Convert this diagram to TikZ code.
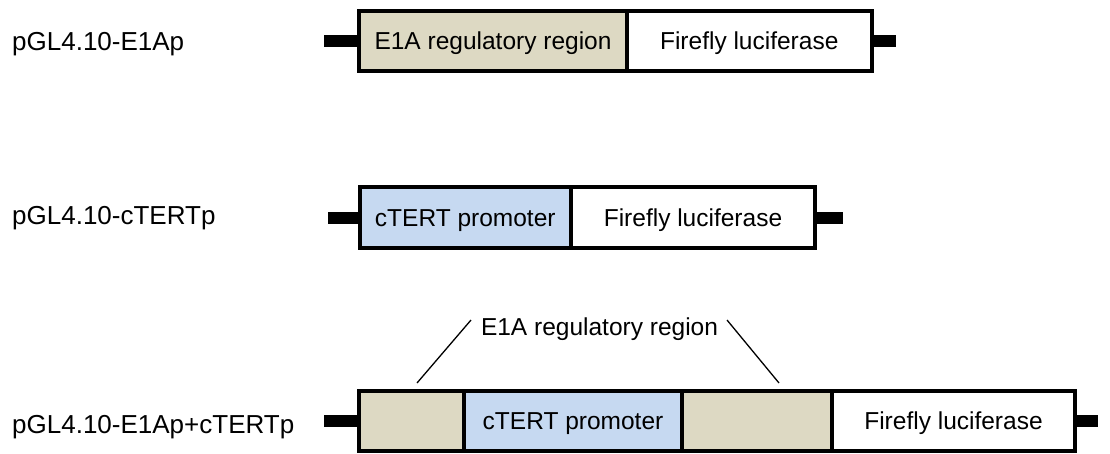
\documentclass[tikz,border=0pt]{standalone}
\usepackage{fontspec}
\setmainfont{Liberation Sans}
\definecolor{tanfill}{HTML}{DDD9C3}
\definecolor{bluefill}{HTML}{C6D9F1}
\begin{document}
\begin{tikzpicture}[x=1pt,y=-1pt,
  seg/.style={draw=black, line width=4pt, inner sep=0pt, outer sep=0pt,
    minimum height=60pt, text height=17.5pt, text depth=0pt,
    font=\fontsize{24.5}{24.5}\selectfont},
  tanseg/.style={seg, fill=tanfill},
  blueseg/.style={seg, fill=bluefill},
  whiteseg/.style={seg, fill=white},
  stub/.style={line width=12pt, line cap=butt, draw=black},
  rowlabel/.style={anchor=base west, inner sep=0pt, font=\fontsize{26}{26}\selectfont},
  callout/.style={line width=1.3pt, draw=black}]
\useasboundingbox (0,0) rectangle (1110,453);

% Row 1
\node[rowlabel] (lab1) at (12,50) {pGL4.10-E1Ap};
\node[tanseg, minimum width=268pt] (r1a) at (493,40.5) {E1A regulatory region};
\node[whiteseg, minimum width=244.5pt] (r1b) at (749.25,40.5) {Firefly luciferase};
\coordinate (r1l) at (324,40.5);
\coordinate (r1r) at (896,40.5);
\draw[stub] (r1l) -- (r1a.west);
\draw[stub] (r1b.east) -- (r1r);

% Row 2
\node[rowlabel] (lab2) at (12,224) {pGL4.10-cTERTp};
\node[blueseg, minimum width=211.5pt, minimum height=61pt] (r2a) at (465.25,217.5) {cTERT promoter};
\node[whiteseg, minimum width=244pt, minimum height=61pt] (r2b) at (693,217.5) {Firefly luciferase};
\coordinate (r2l) at (328,217.5);
\coordinate (r2r) at (843,217.5);
\draw[stub] (r2l) -- (r2a.west);
\draw[stub] (r2b.east) -- (r2r);

% Row 3
\node[rowlabel] (lab3) at (12,433) {pGL4.10-E1Ap+cTERTp};
\node[tanseg, minimum width=105pt] (r3a) at (411.5,421) {};
\node[blueseg, minimum width=218pt] (r3b) at (573,421) {cTERT promoter};
\node[tanseg, minimum width=150pt] (r3c) at (757,421) {};
\node[whiteseg, minimum width=243pt] (r3d) at (953.5,421) {Firefly luciferase};
\coordinate (r3l) at (324,421);
\coordinate (r3r) at (1098,421);
\draw[stub] (r3l) -- (r3a.west);
\draw[stub] (r3d.east) -- (r3r);

% Callout
\node[inner sep=0pt, text height=17.5pt, text depth=0pt,
  font=\fontsize{24.5}{24.5}\selectfont] (e1a) at (599.5,327) {E1A regulatory region};
\coordinate (c1t) at (471,320);
\coordinate (c1b) at (417,383);
\coordinate (c2t) at (727,320);
\coordinate (c2b) at (779,383);
\draw[callout] (c1t) -- (c1b);
\draw[callout] (c2t) -- (c2b);
\end{tikzpicture}
\end{document}
